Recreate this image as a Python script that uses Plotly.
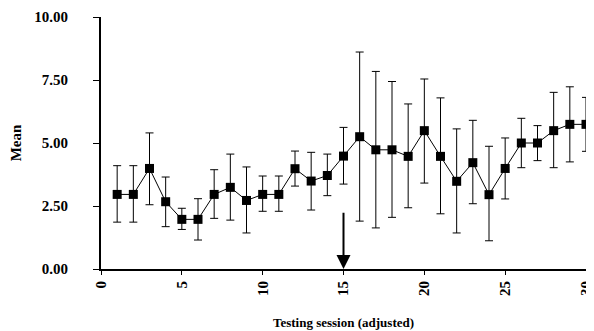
import plotly.graph_objects as go

sessions = list(range(1, 31))
means = [2.96, 2.96, 3.99, 2.67, 1.97, 1.97, 2.96, 3.24, 2.72, 2.96,
         2.96, 3.98, 3.49, 3.71, 4.48, 5.25, 4.73, 4.73, 4.47, 5.49,
         4.47, 3.48, 4.22, 2.95, 3.99, 5.00, 5.00, 5.49, 5.74, 5.74]
upper = [4.10, 4.10, 5.40, 3.65, 2.41, 2.79, 3.94, 4.56, 4.05, 3.69,
         3.69, 4.68, 4.63, 4.56, 5.62, 8.61, 7.84, 7.44, 6.55, 7.54,
         6.79, 5.56, 5.90, 4.87, 5.20, 5.98, 5.69, 7.01, 7.23, 6.81]
lower = [1.86, 1.86, 2.55, 1.68, 1.57, 1.15, 2.01, 1.94, 1.43, 2.29,
         2.29, 3.29, 2.34, 2.91, 3.37, 1.90, 1.63, 2.05, 2.43, 3.41,
         2.19, 1.43, 2.59, 1.12, 2.78, 4.02, 4.30, 4.02, 4.25, 4.67]
x_ticks = [0, 5, 10, 15, 20, 25, 30]
y_ticks = [0, 2.5, 5, 7.5, 10]
arrow_session = 15
arrow_top = 2.29

err_plus = [u - m for u, m in zip(upper, means)]
err_minus = [m - l for m, l in zip(means, lower)]

font_family = "Liberation Serif"

fig = go.Figure()
fig.add_trace(go.Scatter(
    x=sessions, y=means, mode="lines+markers",
    line=dict(color="black", width=1),
    marker=dict(symbol="square", size=9, color="black"),
    error_y=dict(type="data", symmetric=False, array=err_plus, arrayminus=err_minus,
                 color="black", thickness=1, width=4),
    showlegend=False, cliponaxis=False,
))

fig.add_annotation(
    x=arrow_session, y=0, ax=arrow_session, ay=arrow_top,
    xref="x", yref="y", axref="x", ayref="y",
    showarrow=True, arrowhead=2, arrowsize=1.4, arrowwidth=2,
    arrowcolor="black", text="",
)

# page body has an 8px default margin, so the figure is offset by (8, 8)
fig.update_layout(
    width=586, height=323,
    margin=dict(l=93, r=8, t=9, b=62),
    paper_bgcolor="white", plot_bgcolor="white",
    font=dict(family=font_family, color="black", size=14),
    xaxis=dict(
        range=[0, 30], tickvals=x_ticks, ticktext=[str(v) for v in x_ticks],
        tickangle=-90, showgrid=False, zeroline=False, automargin=False,
        showline=True, linecolor="black", linewidth=2,
        ticks="outside", ticklen=4, tickwidth=1, tickcolor="black",
        ticklabeloverflow="allow",
        tickfont=dict(family=font_family, size=15, weight="bold"),
        title=dict(text="<b>Testing session (adjusted)</b>",
                   font=dict(family=font_family, size=13), standoff=23),
    ),
    yaxis=dict(
        range=[0, 10], tickvals=y_ticks, tickformat=".2f",
        showgrid=False, zeroline=False, automargin=False,
        showline=True, linecolor="black", linewidth=2,
        ticks="outside", ticklen=6, tickwidth=1, tickcolor="black",
        ticklabelstandoff=22,
        tickfont=dict(family=font_family, size=15, weight="bold"),
        title=dict(text="<b>Mean</b>", font=dict(family=font_family, size=15), standoff=10),
    ),
)

fig.write_html("out.html")
